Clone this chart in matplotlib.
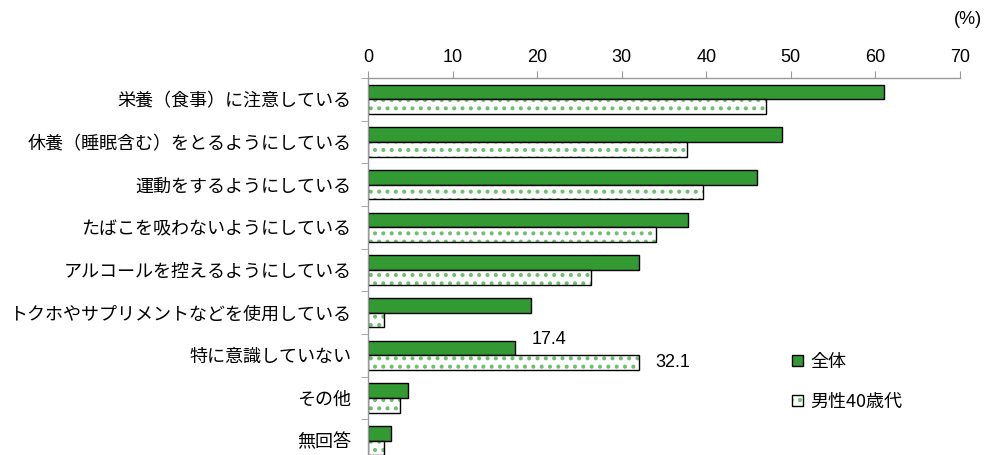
import matplotlib
matplotlib.use("Agg")
import matplotlib.pyplot as plt
from matplotlib.patches import Patch
from matplotlib.legend_handler import HandlerTuple
import numpy as np

plt.rcParams['font.family'] = ['Noto Sans CJK JP', 'DejaVu Sans']
plt.rcParams['hatch.linewidth'] = 1.7

categories = [
    "栄養（食事）に注意している",
    "休養（睡眠含む）をとるようにしている",
    "運動をするようにしている",
    "たばこを吸わないようにしている",
    "アルコールを控えるようにしている",
    "トクホやサプリメントなどを使用している",
    "特に意識していない",
    "その他",
    "無回答",
]
overall = [61.0, 49.0, 46.0, 37.8, 32.0, 19.3, 17.4, 4.7, 2.7]
men40s = [47.1, 37.7, 39.6, 34.0, 26.4, 1.9, 32.1, 3.8, 1.9]
series_names = ["全体", "男性40歳代"]
xticks = [0, 10, 20, 30, 40, 50, 60, 70]

green = "#339933"
dot_green = "#6cbf6c"
num_font = ['Liberation Sans', 'Noto Sans CJK JP']

fig = plt.figure(figsize=(9.88, 4.55), dpi=100)
ax = fig.add_axes([368 / 988, -7 / 455, (960 - 368) / 988, (462 - 78) / 455])

y = np.arange(len(categories))
h = 0.34
ax.barh(y - h / 2, overall, height=h, color=green, edgecolor="black", linewidth=1.0)
# dotted series: green dot hatch first, black outline on top
ax.barh(y + h / 2, men40s, height=h, color="white", edgecolor=dot_green,
        hatch="..", linewidth=0)
ax.barh(y + h / 2, men40s, height=h, fill=False, edgecolor="black", linewidth=1.0)

ax.set_xlim(0, 70)
ax.set_ylim(len(categories) - 0.5, -0.5)
ax.xaxis.tick_top()
ax.set_xticks(xticks)
ax.set_xticklabels([str(v) for v in xticks], family=num_font, fontsize=13)
ax.tick_params(axis="x", direction="out", length=5, color="#999999", pad=4)

ax.set_yticks(y)
ax.set_yticklabels(categories, fontsize=13)
ax.set_yticks(np.arange(len(categories) + 1) - 0.5, minor=True)
ax.tick_params(axis="y", which="major", length=0, pad=12)
ax.tick_params(axis="y", which="minor", direction="out", length=5, color="#999999")

for s in ["right", "bottom"]:
    ax.spines[s].set_visible(False)
for s in ["top", "left"]:
    ax.spines[s].set_color("#999999")
    ax.spines[s].set_linewidth(1.0)

# value labels for the "特に意識していない" row
i = categories.index("特に意識していない")
ax.text(overall[i] + 1.9, i - h - 0.02, f"{overall[i]:.1f}", family=num_font,
        fontsize=13, ha="left", va="center")
ax.text(men40s[i] + 1.9, i + h / 2, f"{men40s[i]:.1f}", family=num_font,
        fontsize=13, ha="left", va="center")

fig.text(968 / 988, 1 - 20 / 455, "(%)", family=num_font, fontsize=13,
         ha="center", va="center")

handles = [
    Patch(facecolor=green, edgecolor="black", linewidth=1.0),
    (Patch(facecolor="white", edgecolor=dot_green, hatch="..", linewidth=0),
     Patch(fill=False, edgecolor="black", linewidth=1.0)),
]
leg = fig.legend(handles, series_names, loc="upper left",
                 bbox_to_anchor=(783 / 988, 1 - 344 / 455), frameon=False,
                 fontsize=13, handlelength=0.6, handleheight=0.6,
                 handletextpad=0.4, labelspacing=1.2, borderpad=0,
                 handler_map={tuple: HandlerTuple(ndivide=1, pad=0)})

fig.savefig("out.png", dpi=100)
